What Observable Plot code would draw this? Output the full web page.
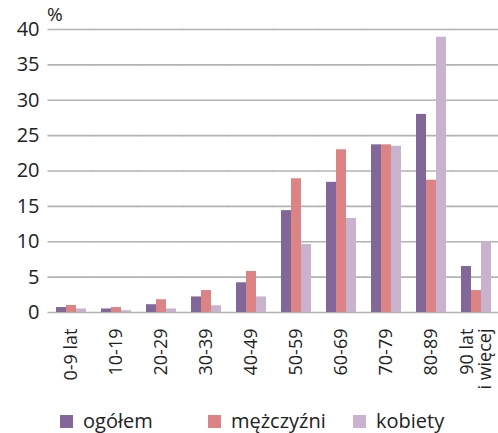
<!DOCTYPE html>
<html>
<head>
<meta charset="utf-8">
<script src="https://cdn.jsdelivr.net/npm/d3@7"></script>
<script src="https://cdn.jsdelivr.net/npm/@observablehq/plot@0.6"></script>
<style>
  body { margin: 0; background: #fff; font-family: "Open Sans", sans-serif; }
  #wrap { position: relative; width: 498px; height: 433px; }
  .leg { position: absolute; top: 407px; display: flex; align-items: center; font-size: 20px; line-height: 28px; color: #222; white-space: nowrap; }
  .sw { width: 13px; height: 13px; margin-right: 10px; flex: none; }
  #unit { position: absolute; left: 47px; top: 1px; font-size: 19px; line-height: 26px; color: #222; }
</style>
</head>
<body>
<div id="wrap"><span id="unit">%</span></div>
<script>
const ages = ["0-9 lat", "10-19", "20-29", "30-39", "40-49", "50-59", "60-69", "70-79", "80-89", "90 lat\ni więcej"];
const seriesNames = ["ogółem", "mężczyźni", "kobiety"];
const colors = ["#826898", "#dc8385", "#c9b2cd"];
const ogolem =     [0.7, 0.5, 1.1, 2.2, 4.2, 14.4, 18.4, 23.7, 28.0, 6.5];
const mezczyzni =  [1.0, 0.7, 1.8, 3.1, 5.8, 18.9, 23.0, 23.7, 18.7, 3.1];
const kobiety =    [0.5, 0.25, 0.5, 0.95, 2.2, 9.6, 13.3, 23.5, 38.9, 10.0];
const yTicks = [0, 5, 10, 15, 20, 25, 30, 35, 40];

const seriesValues = [ogolem, mezczyzni, kobiety];
const data = [];
ages.forEach((a, i) => seriesNames.forEach((s, j) => data.push({age: a, series: s, value: seriesValues[j][i]})));

const chart = Plot.plot({
  width: 498,
  height: 400,
  marginLeft: 48,
  marginRight: 0,
  marginTop: 29,
  marginBottom: 88,
  style: {fontFamily: "Open Sans, sans-serif", color: "#222", background: "transparent"},
  fx: {domain: ages, paddingInner: 0.31, paddingOuter: 0.155, label: null},
  x: {domain: seriesNames, padding: 0, axis: null},
  y: {domain: [0, 40], label: null},
  color: {domain: seriesNames, range: colors},
  marks: [
    Plot.ruleY(yTicks, {stroke: "#b3b3b3", strokeWidth: 1.6, insetLeft: -7.5, insetRight: -7.5}),
    Plot.barY(data, {fx: "age", x: "series", y: "value", fill: "series"}),
    Plot.axisY(yTicks, {tickSize: 0, tickPadding: 16, fontSize: 20, label: null}),
    Plot.axisFx({anchor: "bottom", tickSize: 0, tickPadding: 16, tickRotate: -90, fontSize: 18, label: null})
  ]
});
const wrap = document.getElementById("wrap");
wrap.appendChild(chart);
const legLefts = [60, 208, 353];
seriesNames.forEach((s, i) => {
  const d = document.createElement("div");
  d.className = "leg";
  d.style.left = legLefts[i] + "px";
  d.innerHTML = `<span class="sw" style="background:${colors[i]}"></span><span>${s}</span>`;
  wrap.appendChild(d);
});
</script>
</body>
</html>
